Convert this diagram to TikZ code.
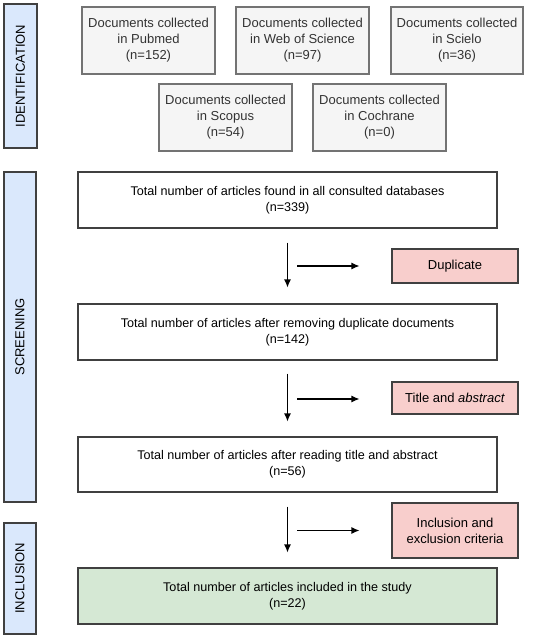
\documentclass[tikz,border=0pt]{standalone}
\usepackage{fontspec}
\setmainfont{Liberation Sans}
\usetikzlibrary{arrows.meta}
\definecolor{dbgray}{HTML}{F5F5F5}
\definecolor{dbblue}{HTML}{DAE8FC}
\definecolor{dbred}{HTML}{F8CECC}
\definecolor{dbgreen}{HTML}{D5E8D4}
\tikzset{
  box/.style={shape=rectangle,draw=black!75,line width=1.1pt,align=center,inner sep=2pt,
    font=\fontsize{13}{16}\selectfont},
  dbbox/.style={box,draw=black!55,fill=dbgray,text=black!80,minimum width=133pt,minimum height=67pt},
  mainbox/.style={box,font=\fontsize{12.6}{16}\selectfont,minimum width=419pt,minimum height=56pt},
  outbox/.style={box,fill=dbred,minimum width=126pt},
  phase/.style={box,fill=dbblue,rotate=90},
  arr/.style={line width=1.1pt,-{Latex[length=8pt,width=7pt]}}
}
\begin{document}
\begin{tikzpicture}[x=1pt,y=-1pt]
\useasboundingbox (0,0) rectangle (550,638);
% phases
\node[phase,minimum width=144pt,minimum height=33pt] (ident) at (20.5,76) {IDENTIFICATION};
\node[phase,minimum width=330pt,minimum height=32pt] (screen) at (20,337) {SCREENING};
\node[phase,minimum width=111pt,minimum height=32pt] (incl) at (20,578.5) {INCLUSION};
% databases
\node[dbbox] (pubmed) at (148.5,40.5) {Documents collected\\in Pubmed\\(n=152)};
\node[dbbox] (wos) at (302.5,40.5) {Documents collected\\in Web of Science\\(n=97)};
\node[dbbox,minimum width=132pt] (scielo) at (457,40.5) {Documents collected\\in Scielo\\(n=36)};
\node[dbbox] (scopus) at (225.5,117.5) {Documents collected\\in Scopus\\(n=54)};
\node[dbbox] (cochrane) at (379.5,117.5) {Documents collected\\in Cochrane\\(n=0)};
% flow
\node[mainbox] (found) at (287.5,200) {Total number of articles found in all consulted databases\\(n=339)};
\node[outbox,minimum height=34pt] (dup) at (455,266) {Duplicate};
\node[mainbox] (removed) at (287.5,332) {Total number of articles after removing duplicate documents\\(n=142)};
\node[outbox,minimum height=32pt] (title) at (455,398) {Title and \textit{abstract}};
\node[mainbox,minimum height=55pt] (reading) at (287.5,464.5) {Total number of articles after reading title and abstract\\(n=56)};
\node[outbox,minimum height=55pt] (crit) at (455,530.5) {Inclusion and\\exclusion criteria};
\node[mainbox,fill=dbgreen] (included) at (287.5,596) {Total number of articles included in the study\\(n=22)};
% arrows
\draw[arr] ([yshift=-14pt]found.south) -- ([yshift=16pt]removed.north);
\draw[arr] ([yshift=-13pt]removed.south) -- ([yshift=15pt]reading.north);
\draw[arr] ([yshift=-14pt]reading.south) -- ([yshift=15pt]included.north);
\draw[arr] ([xshift=-94pt]dup.west) -- ([xshift=-32pt]dup.west);
\draw[arr] ([xshift=-94pt,yshift=-1pt]title.west) -- ([xshift=-32pt,yshift=-1pt]title.west);
\draw[arr] ([xshift=-94pt]crit.west) -- ([xshift=-32pt]crit.west);
\end{tikzpicture}
\end{document}
